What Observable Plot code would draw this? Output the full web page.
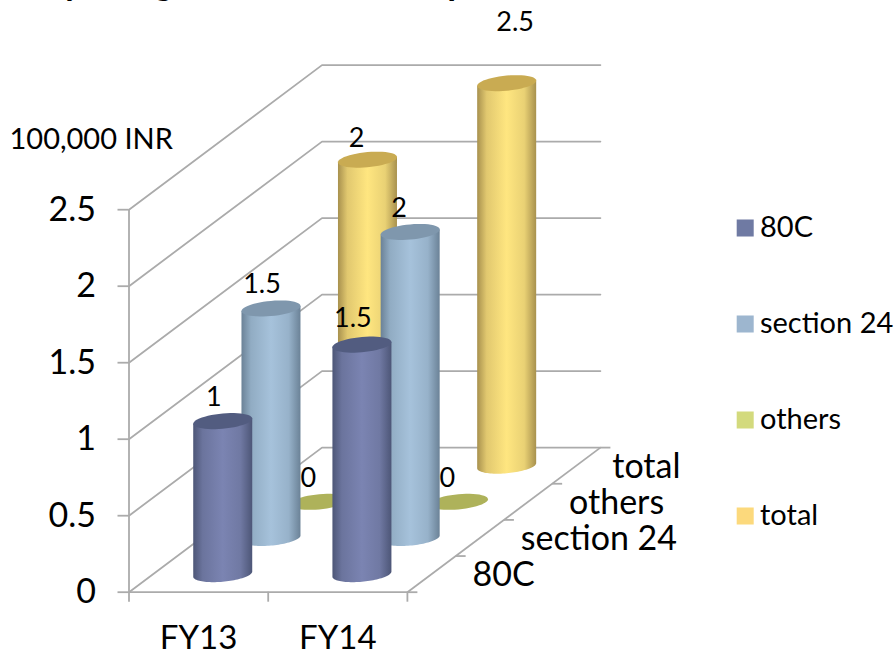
<!DOCTYPE html>
<html>
<head>
<meta charset="utf-8">
<script src="https://cdn.jsdelivr.net/npm/d3@7"></script>
<script src="https://cdn.jsdelivr.net/npm/@observablehq/plot@0.6"></script>
<style>
  html, body { margin: 0; background: #fff; }
  svg { display: block; }
</style>
</head>
<body>
<div id="chart"></div>
<script>
// Chart values
const years = ["FY13", "FY14"];
const seriesNames = ["80C", "section 24", "others", "total"];
const values80C = [1, 1.5];
const valuesSection24 = [1.5, 2];
const valuesOthers = [0, 0];
const valuesTotal = [2, 2.5];
const valueTicks = [0, 0.5, 1, 1.5, 2, 2.5];
const unitLabel = "100,000 INR";
const titleDescenders = ["y", "g", "p"];

// Frame and oblique projection of the 3-D box
const W = 896, H = 651;
const originX = 128.5, originY = 591.7;   // front-left floor corner, px
const catPx = 139.2, valPx = 153;         // px per category, px per value unit
const depthX = 48.25 / catPx;             // sideways shift per series row
const depthY = 36.15 / valPx;             // upward shift per series row
const rx = 29.5 / catPx, ry = 7.6 / valPx, shear = 2.6 / valPx;

const palette = {
  "80C":        {id: "g80c", edge: "#4d5677", mid: "#7b84b2", top: "#525c80", key: "#6f7aa3"},
  "section 24": {id: "gs24", edge: "#6b8297", mid: "#a6c2db", top: "#7f97ad", key: "#9db6cf"},
  "others":     {id: "goth", edge: "#9ea24f", mid: "#c9cf72", top: "#aeb25a", key: "#d3da7d"},
  "total":      {id: "gtot", edge: "#a8914e", mid: "#ffe680", top: "#c9ab52", key: "#fcd97c"}
};
const gridColor = "#ababab";

const rows = [values80C, valuesSection24, valuesOthers, valuesTotal];

const floorAt = (c, d) => ({x: c + d * depthX, y: d * depthY});
const centre = (c, d) => floorAt(c + 0.5, d + 0.5);

function ellipseArc(cx, cy, from, to) {
  const n = 48, pts = [];
  for (let i = 0; i <= n; ++i) {
    const t = from + (to - from) * i / n;
    pts.push({x: cx + rx * Math.cos(t), y: cy + ry * Math.sin(t) + shear * Math.cos(t)});
  }
  return pts;
}

function cylinderMarks(c, d, value) {
  const name = seriesNames[d];
  const {x, y} = centre(c, d);
  const marks = [];
  if (value > 0) {
    const body = [
      {x: x - rx, y: y + value - shear},
      ...ellipseArc(x, y, Math.PI, 2 * Math.PI),
      {x: x + rx, y: y + value + shear}
    ];
    marks.push(Plot.line(body, {x: "x", y: "y", fill: `url(#${palette[name].id})`, stroke: "none"}));
  }
  marks.push(Plot.line(ellipseArc(x, y + value, 0, 2 * Math.PI), {x: "x", y: "y", fill: palette[name].top, stroke: "none"}));
  return marks;
}

// Walls: each value runs up the side wall and along the back wall
const wallLines = valueTicks.flatMap((v) => [
  {v, x: 0, y: v},
  {v, x: 4 * depthX, y: v + 4 * depthY},
  {v, x: 2 + 4 * depthX, y: v + 4 * depthY}
]);
const floorEdges = [
  {x1: 0, y1: 0, x2: 2, y2: 0},
  {x1: 2, y1: 0, x2: 2 + 4 * depthX, y2: 4 * depthY}
];
const depthTicks = d3.range(5).map((d) => floorAt(2, d));

// Value labels sit just above and left of each cylinder top; the tallest floats higher and to the right
const labelNudge = {"0-0": [-9, -24], "0-1": [-9, -26], "1-0": [-9, -24], "1-1": [-11, -24], "2-0": [-11, -23], "2-1": [-11, -23], "3-0": [-11, -21], "3-1": [8.5, -61]};
const valueLabels = rows.flatMap((vals, d) => vals.map((value, c) => {
  const p = centre(c, d);
  const [dx, dy] = labelNudge[`${d}-${c}`];
  return Plot.text([value], {x: p.x, y: p.y + value, text: (v) => String(v), dx, dy, fontSize: 27, fill: "#000"});
}));

const cylinders = d3.range(3, -1, -1).flatMap((d) => rows[d].flatMap((value, c) => cylinderMarks(c, d, value)));

const legend = seriesNames.flatMap((name, i) => [
  Plot.dot([name], {frameAnchor: "top-left", dx: 744.7, dy: 227.5 + 96 * i, symbol: "square", r: 9.6, fill: palette[name].key, stroke: "none"}),
  Plot.text([name], {frameAnchor: "top-left", dx: 759.5, dy: 227 + 96 * i, text: (d) => d, textAnchor: "start", lineAnchor: "middle", fontSize: 29, fill: "#000"})
]);

const gradients = () => {
  const g = d3.create("svg:defs");
  for (const name of seriesNames) {
    const {id, edge, mid} = palette[name];
    const lg = g.append("linearGradient").attr("id", id).attr("x1", 0).attr("x2", 1).attr("y1", 0).attr("y2", 0);
    [[0, edge], [0.16, d3.interpolateRgb(edge, mid)(0.65)], [0.5, mid], [0.8, d3.interpolateRgb(edge, mid)(0.75)], [1, edge]]
      .forEach(([o, col]) => lg.append("stop").attr("offset", o).attr("stop-color", col));
  }
  return g.node();
};

const depthLabelGap = [41, 41, 41, 36];

const chart = Plot.plot({
  width: W,
  height: H,
  margin: 0,
  style: {fontFamily: "Lato, sans-serif", background: "#fff", color: "#000"},
  x: {domain: [-originX / catPx, (W - originX) / catPx], range: [0, W]},
  y: {domain: [(originY - H) / valPx, originY / valPx], range: [H, 0]},
  marks: [
    gradients,
    // Box edges and gridlines
    Plot.line(wallLines, {x: "x", y: "y", z: "v", stroke: gridColor, strokeWidth: 1.8}),
    Plot.link(floorEdges, {x1: "x1", y1: "y1", x2: "x2", y2: "y2", stroke: gridColor, strokeWidth: 1.8}),
    Plot.link([0], {x1: 0, x2: 0, y1: 0, y2: valueTicks[valueTicks.length - 1], stroke: gridColor, strokeWidth: 1.8}),
    Plot.link(depthTicks, {x1: "x", y1: "y", x2: (d) => d.x + 10 / catPx, y2: "y", stroke: gridColor, strokeWidth: 1.8}),
    Plot.axisY({x: 0, ticks: valueTicks, tickSize: 11, tickPadding: 22, tickFormat: (d) => String(d), label: null, fontSize: 34, stroke: gridColor, strokeWidth: 1.8, fill: "#000"}),
    Plot.axisX({y: 0, ticks: [0, 1, 2], tickSize: 10, tickFormat: () => "", label: null, stroke: gridColor, strokeWidth: 1.8}),
    // Cylinders, painted from the back row forward
    ...cylinders,
    // Category labels
    Plot.text(years, {x: (d, i) => i + 0.5, y: 0, text: (d) => d, dy: 46, fontSize: 33, fill: "#000"}),
    ...seriesNames.map((name, i) => Plot.text([name], {
      x: floorAt(2, i + 0.5).x,
      y: floorAt(2, i + 0.5).y,
      text: (d) => d, dx: depthLabelGap[i], dy: 1, textAnchor: "start", fontSize: 34, fill: "#000"
    })),
    ...valueLabels,
    ...legend,
    Plot.text([unitLabel], {frameAnchor: "top-left", dx: 9, dy: 139, text: (d) => d, textAnchor: "start", lineAnchor: "middle", fontSize: 29, fill: "#000"}),
    // Heading, cut off by the top edge
    ...titleDescenders.map((ch, i) => Plot.text([ch], {frameAnchor: "top-left", dx: [72, 163, 457][i], dy: -6, text: (d) => d, lineAnchor: "bottom", textAnchor: "middle", fontSize: 36, fontWeight: 700, fill: "#000"}))
  ]
});
document.getElementById("chart").append(chart);
</script>
</body>
</html>
